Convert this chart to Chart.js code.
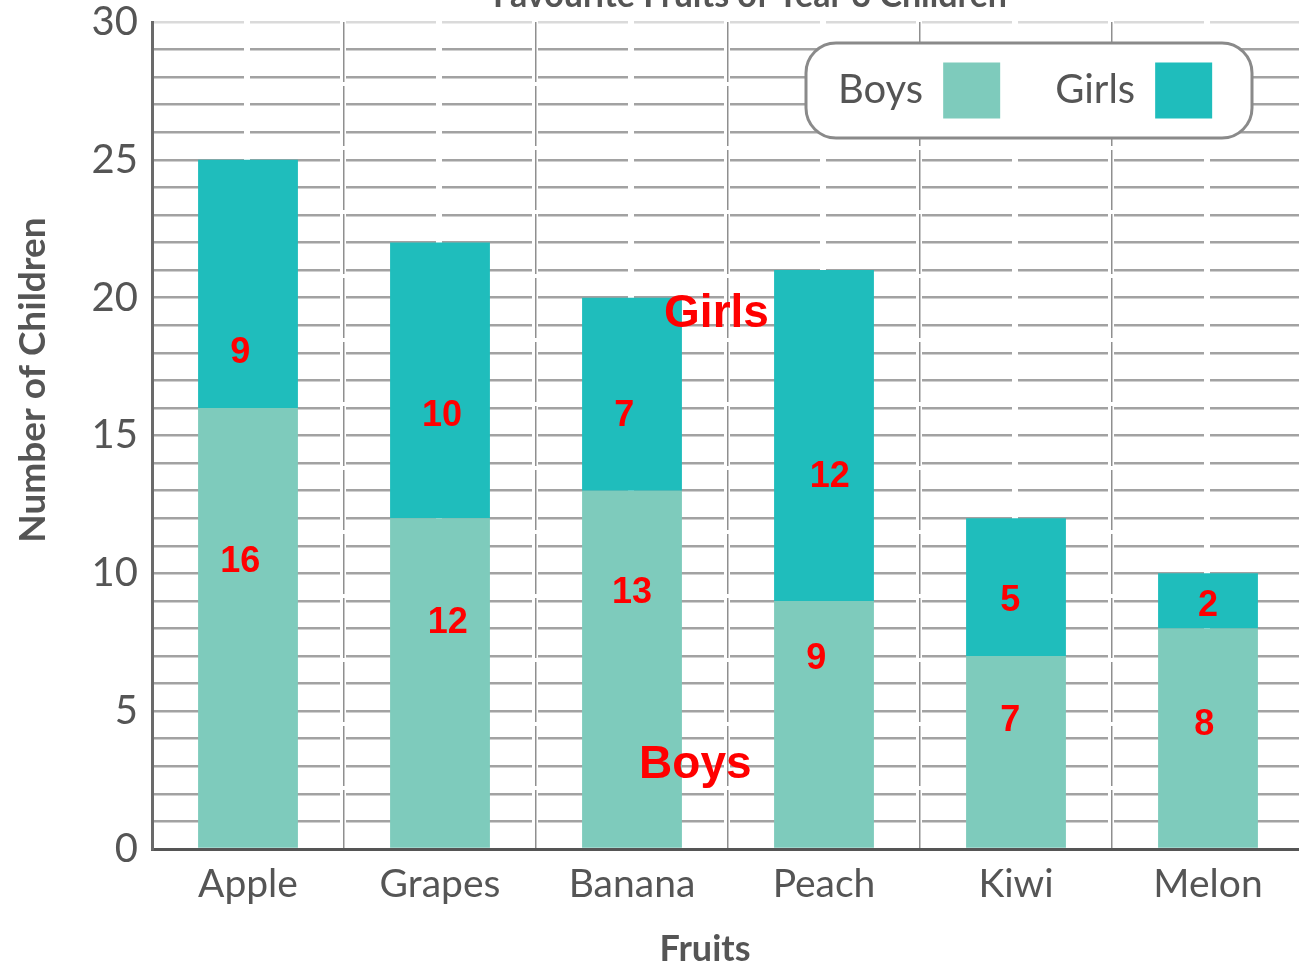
<!DOCTYPE html>
<html><head><meta charset="utf-8">
<script src="https://cdn.jsdelivr.net/npm/chart.js@4.4.1/dist/chart.umd.min.js"></script>
<style>html,body{margin:0;padding:0;background:#fff;overflow:hidden;width:1299px;height:967px}
#c{position:absolute;left:0;top:0}</style></head>
<body><canvas id="c" width="1310" height="967"></canvas>
<script>
const categories = ['Apple','Grapes','Banana','Peach','Kiwi','Melon'];
const boys = [16,12,13,9,7,8];
const girls = [9,10,7,12,5,2];
const yTickLabels = [0,5,10,15,20,25,30];
const chartTitle = 'Favourite Fruits of Year 3 Children';
const xTitle = 'Fruits';
const yTitle = 'Number of Children';
// red annotation placement (fractional category index offset, value on y scale)
const girlsNoteX = [-0.04,0.01,-0.04,0.03,-0.03,0.0];
const girlsNoteY = [18.0,15.7,15.7,13.5,9.0,8.8];
const boysNoteX = [-0.04,0.04,0,-0.04,-0.03,-0.02];
const boysNoteY = [10.4,8.2,9.3,6.9,4.65,4.5];
const seriesNotes = [{text:'Girls', x:2.44, y:19.4},{text:'Boys', x:2.33, y:3.05}];

const BOYS_COLOR = '#7ECBBC';
const GIRLS_COLOR = '#1FBDBC';
const TEXT = '#555555';

const overlay = {
  id:'overlay',
  afterDatasetsDraw(chart){
    const {ctx, scales:{x,y}} = chart;
    ctx.save();
    ctx.fillStyle = '#FF0000';
    ctx.textAlign = 'center';
    ctx.textBaseline = 'middle';
    ctx.font = 'bold 36px "Liberation Sans", Arial, sans-serif';
    for (let i=0;i<categories.length;i++){
      ctx.fillText(String(girls[i]), x.getPixelForValue(i+girlsNoteX[i]), y.getPixelForValue(girlsNoteY[i]));
      ctx.fillText(String(boys[i]), x.getPixelForValue(i+boysNoteX[i]), y.getPixelForValue(boysNoteY[i]));
    }
    ctx.font = 'bold 46px "Liberation Sans", Arial, sans-serif';
    seriesNotes.forEach(n=>ctx.fillText(n.text, x.getPixelForValue(n.x), y.getPixelForValue(n.y)));
    ctx.restore();
  },
  afterDraw(chart){
    const {ctx} = chart;
    ctx.save();
    ctx.fillStyle = TEXT;
    ctx.textAlign = 'center';
    ctx.textBaseline = 'alphabetic';
    ctx.font = 'bold 34px Lato';
    ctx.fillText(chartTitle, 750, 7);
    ctx.textBaseline = 'middle';
    ctx.font = 'bold 36px Lato';
    ctx.fillText(xTitle, 705, 949);
    ctx.save();
    ctx.translate(33, 380);
    ctx.rotate(-Math.PI/2);
    ctx.font = 'bold 37px Lato';
    ctx.fillText(yTitle, 0, 0);
    ctx.restore();
    const lg = {x:806, y:43, w:446, h:95, r:30};
    ctx.beginPath();
    ctx.roundRect(lg.x, lg.y, lg.w, lg.h, lg.r);
    ctx.fillStyle = '#fff';
    ctx.fill();
    ctx.lineWidth = 3;
    ctx.strokeStyle = '#8a8a8a';
    ctx.stroke();
    ctx.font = '40px Lato';
    ctx.textAlign = 'left';
    ctx.textBaseline = 'middle';
    let cx = lg.x + 32;
    const cy = lg.y + lg.h/2;
    chart.data.datasets.forEach(ds=>{
      ctx.fillStyle = TEXT;
      ctx.fillText(ds.label, cx, cy);
      cx += ctx.measureText(ds.label).width + 20;
      ctx.fillStyle = ds.backgroundColor;
      ctx.fillRect(cx, cy-28, 57, 56);
      cx += 57 + 55;
    });
    ctx.restore();
  }
};

function build(){
  new Chart(document.getElementById('c'), {
    type:'bar',
    data:{
      labels:categories,
      datasets:[
        {label:'Boys', data:boys, backgroundColor:BOYS_COLOR, borderWidth:0},
        {label:'Girls', data:girls, backgroundColor:GIRLS_COLOR, borderWidth:0}
      ]
    },
    options:{
      responsive:false,
      animation:false,
      devicePixelRatio:1,
      layout:{padding:{left:0, top:22, right:6, bottom:0}},
      plugins:{legend:{display:false}, title:{display:false}, tooltip:{enabled:false}},
      datasets:{bar:{categoryPercentage:1, barPercentage:0.52}},
      scales:{
        x:{
          stacked:true,
          offset:true,
          grid:{offset:true, color:'#8f8f8f', lineWidth:1.5, drawTicks:false},
          border:{display:true, color:'#555', width:3, dash:[60,4]},
          ticks:{color:TEXT, font:{family:'Lato', size:39}, padding:12, maxRotation:0, autoSkip:false},
          afterFit(s){ s.height = 118; s.paddingLeft = 0; s.paddingRight = 0; }
        },
        y:{
          stacked:true,
          min:0, max:30,
          grid:{color:(c)=> c.tick && c.tick.value===30 ? '#dadada' : '#a2a2a2', lineWidth:2.5, drawTicks:false},
          border:{display:true, color:'#6a6a6a', width:3, dash:[90,6]},
          ticks:{stepSize:1, autoSkip:false, color:TEXT, font:{family:'Lato', size:40}, padding:14,
            callback:(v)=> yTickLabels.includes(v) ? String(v) : ''},
          afterFit(s){ s.width = 152; s.paddingTop = 0; s.paddingBottom = 0; }
        }
      }
    },
    plugins:[overlay]
  });
}
Promise.all([document.fonts.load('40px Lato'), document.fonts.load('bold 40px Lato'), document.fonts.load('bold 36px "Liberation Sans"')]).then(build, build);
</script>
</body></html>
